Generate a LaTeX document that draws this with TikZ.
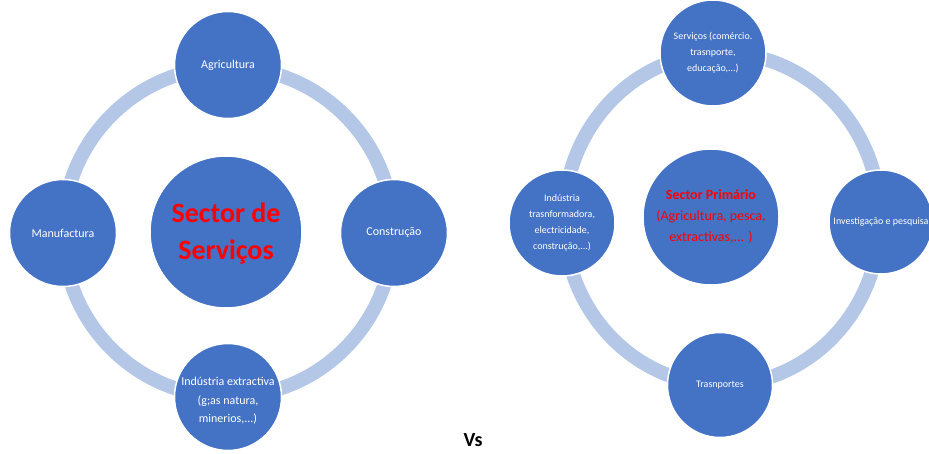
\documentclass[tikz,border=0pt]{standalone}
\usepackage{fontspec}
\setmainfont{Carlito}
\definecolor{bubble}{RGB}{68,114,196}
\definecolor{ringc}{RGB}{180,199,231}
\begin{document}
\begin{tikzpicture}[x=1pt,y=-1pt,
  bub/.style={circle,fill=bubble,draw=white,line width=1.5pt,inner sep=0pt,minimum size=#1},
  lbl/.style={text=white,align=center,font=\fontsize{12}{18.5}\selectfont,inner sep=0pt},
  slbl/.style={text=white,align=center,font=\fontsize{10}{16}\selectfont,inner sep=0pt},
  ringline/.style={draw=ringc,line width=14pt},
  redbig/.style={text=red,align=center,font=\bfseries\fontsize{28}{37}\selectfont,inner sep=0pt},
  redmid/.style={text=red,align=center,font=\fontsize{14}{21}\selectfont,inner sep=0pt}]
\useasboundingbox[fill=white] (0,0) rectangle (929,454);
% left diagram
\draw[ringline] (228,232) circle (165);
\node[bub=152] (lc) at (226,232) {};
\node[redbig] (lct) at ([yshift=-2pt]lc.center) {Sector de\\Serviços};
\node[bub=107] (agri) at (228,65) {};
\node[lbl] (agrit) at (agri) {Agricultura};
\node[bub=107] (manu) at (63,233) {};
\node[lbl] (manut) at (manu) {Manufactura};
\node[bub=107] (cons) at (394,233) {};
\node[lbl] (const) at (cons) {Construção};
\node[bub=107] (indu) at (228,397) {};
\node[lbl] (indut) at ([yshift=-4pt]indu.center) {Indústria extractiva\\(g;as natura,\\minerios,...)};
% right diagram
\draw[ringline] (722,219) ellipse (158 and 166);
\node[bub=136] (rc) at (711,217) {};
\node[redmid] (rct) at (rc) {\textbf{Sector Primário}\\(Agricultura, pesca,\\extractivas,... )};
\node[bub=106] (serv) at (713,53) {};
\node[slbl] (servt) at (serv) {Serviços (comércio.\\trasnporte,\\educação,...)};
\node[bub=106] (indt) at (562,223) {};
\node[slbl] (indtt) at (indt) {Indústria\\trasnformadora,\\electricidade,\\construção,...)};
\node[bub=104] (inve) at (881,222) {};
\node[slbl] (invet) at (inve) {Investigação e pesquisa};
\node[bub=105] (tran) at (720,385) {};
\node[slbl] (trant) at (tran) {Trasnportes};
% Vs
\node[font=\bfseries\fontsize{20}{22}\selectfont,inner sep=0pt] (vs) at (473,440) {Vs};
\end{tikzpicture}
\end{document}
